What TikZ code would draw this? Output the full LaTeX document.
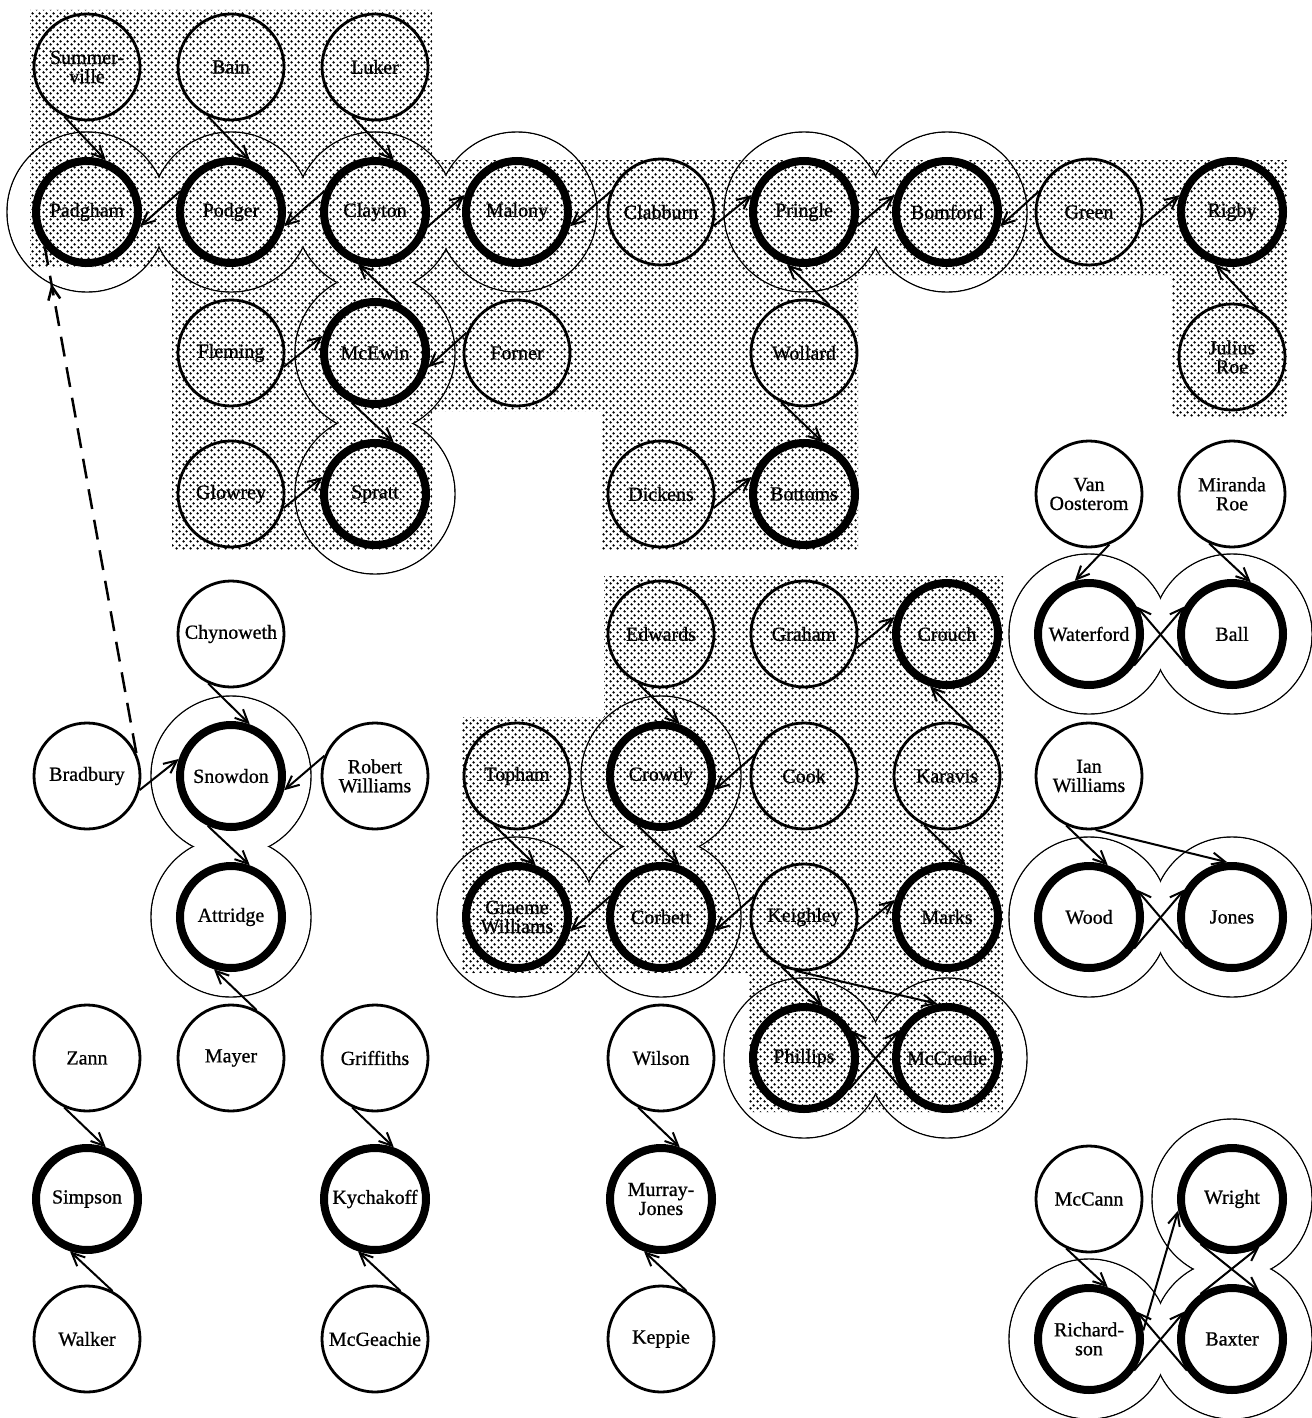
\documentclass[tikz,border=0pt]{standalone}
\usepackage{fontspec}
\setmainfont{Liberation Serif}
\newfontfamily\namefont[FakeBold=0.8]{Liberation Serif}
\usetikzlibrary{arrows.meta,patterns.meta,decorations.markings}
\pgfdeclarelayer{bg}
\pgfsetlayers{bg,main}
\tikzdeclarepattern{
  name=stipple,
  type=uncolored,
  bottom left={(0pt,0pt)},
  top right={(7pt,7pt)},
  tile size={(7pt,7pt)},
  code={
    \fill (1.75pt,1.75pt) circle [radius=1.45pt];
    \fill (5.25pt,5.25pt) circle [radius=1.45pt];
  }
}
\begin{document}
\begin{tikzpicture}[x=1pt,y=-1pt,
  pnode/.style={circle, draw, line width=2.8pt, minimum size=106pt, inner sep=0pt,
    align=center, font=\namefont\fontsize{20}{19}\selectfont},
  pbold/.style={pnode, line width=8pt, minimum size=102pt},
  haloline/.style={line width=1.4pt},
  arr/.style={line width=2pt, -{Straight Barb[length=13pt,width=12pt]}},
  dashedarr/.style={line width=2.5pt, dash pattern=on 20pt off 11pt,
    postaction={decorate, decoration={markings,
      mark=at position 0.928 with {\arrow{Straight Barb[length=13pt,width=12pt]}}}}}
]
\useasboundingbox (0,0) rectangle (1311,1418);
% ---- nodes ----
\node[pnode] (summerville) at (87,67) {Summer-\\ville};
\node[pnode] (bain) at (231,67) {Bain};
\node[pnode] (luker) at (375,67) {Luker};
\node[pbold] (padgham) at (87,212) {Padgham};
\node[pbold] (podger) at (231,212) {Podger};
\node[pbold] (clayton) at (375,212) {Clayton};
\node[pbold] (malony) at (517,212) {Malony};
\node[pnode] (clabburn) at (661,212) {Clabburn};
\node[pbold] (pringle) at (804,212) {Pringle};
\node[pbold] (bomford) at (947,212) {Bomford};
\node[pnode] (green) at (1089,212) {Green};
\node[pbold] (rigby) at (1232,212) {Rigby};
\node[pnode] (fleming) at (231,353) {Fleming};
\node[pbold] (mcewin) at (375,353) {McEwin};
\node[pnode] (forner) at (517,353) {Forner};
\node[pnode] (wollard) at (804,353) {Wollard};
\node[pnode] (juliusroe) at (1232,357) {Julius\\Roe};
\node[pnode] (glowrey) at (231,494) {Glowrey};
\node[pbold] (spratt) at (375,494) {Spratt};
\node[pnode] (dickens) at (661,494) {Dickens};
\node[pbold] (bottoms) at (804,494) {Bottoms};
\node[pnode] (vanoosterom) at (1089,494) {Van\\Oosterom};
\node[pnode] (mirandaroe) at (1232,494) {Miranda\\Roe};
\node[pnode] (chynoweth) at (231,634) {Chynoweth};
\node[pnode] (edwards) at (661,634) {Edwards};
\node[pnode] (graham) at (804,634) {Graham};
\node[pbold] (crouch) at (947,634) {Crouch};
\node[pbold] (waterford) at (1089,634) {Waterford};
\node[pbold] (ball) at (1232,634) {Ball};
\node[pnode] (bradbury) at (87,776) {Bradbury};
\node[pbold] (snowdon) at (231,776) {Snowdon};
\node[pnode] (robertwilliams) at (375,776) {Robert\\Williams};
\node[pnode] (topham) at (517,776) {Topham};
\node[pbold] (crowdy) at (661,776) {Crowdy};
\node[pnode] (cook) at (804,776) {Cook};
\node[pnode] (karavis) at (947,776) {Karavis};
\node[pnode] (ianwilliams) at (1089,776) {Ian\\Williams};
\node[pbold] (attridge) at (231,917) {Attridge};
\node[pbold] (graemewilliams) at (517,917) {Graeme\\Williams};
\node[pbold] (corbett) at (661,917) {Corbett};
\node[pnode] (keighley) at (804,917) {Keighley};
\node[pbold] (marks) at (947,917) {Marks};
\node[pbold] (wood) at (1089,917) {Wood};
\node[pbold] (jones) at (1232,917) {Jones};
\node[pnode] (zann) at (87,1058) {Zann};
\node[pnode] (mayer) at (231,1058) {Mayer};
\node[pnode] (griffiths) at (375,1058) {Griffiths};
\node[pnode] (wilson) at (661,1058) {Wilson};
\node[pbold] (phillips) at (804,1058) {Phillips};
\node[pbold] (mccredie) at (947,1058) {McCredie};
\node[pbold] (simpson) at (87,1199) {Simpson};
\node[pbold] (kychakoff) at (375,1199) {Kychakoff};
\node[pbold] (murrayjones) at (661,1199) {Murray-\\Jones};
\node[pnode] (mccann) at (1089,1199) {McCann};
\node[pbold] (wright) at (1232,1199) {Wright};
\node[pnode] (walker) at (87,1339) {Walker};
\node[pnode] (mcgeachie) at (375,1339) {McGeachie};
\node[pnode] (keppie) at (661,1339) {Keppie};
\node[pbold] (richardson) at (1089,1339) {Richard-\\son};
\node[pbold] (baxter) at (1232,1339) {Baxter};
% ---- background: halos and stipple ----
\begin{pgfonlayer}{bg}
\fill[white] (0,0) rectangle (1311,1418);
\foreach \n in {padgham,podger,clayton,malony,mcewin,spratt,pringle,bomford,
  snowdon,attridge,crowdy,graemewilliams,corbett,phillips,mccredie,
  waterford,ball,wood,jones,wright,richardson,baxter}
  \draw[haloline] (\n.center) circle (80pt);
\foreach \n in {padgham,podger,clayton,malony,mcewin,spratt,pringle,bomford,
  snowdon,attridge,crowdy,graemewilliams,corbett,phillips,mccredie,
  waterford,ball,wood,jones,wright,richardson,baxter}
  \fill[white] (\n.center) circle (79.25pt);
\fill[pattern=stipple] (30,10) -- (432,10) -- (432,160) -- (1287,160) -- (1287,417)
  -- (1172,417) -- (1172,275) -- (858,275) -- (858,550) -- (602,550) -- (602,411)
  -- (432,411) -- (432,550) -- (172,550) -- (172,267) -- (30,267) -- cycle;
\fill[pattern=stipple] (604,576) -- (1003,576) -- (1003,1112) -- (748,1112)
  -- (748,973) -- (462,973) -- (462,717) -- (604,717) -- cycle;
\end{pgfonlayer}
% ---- connectors ----
\foreach \a/\b in {summerville/padgham,bain/podger,luker/clayton,mcewin/spratt,
  wollard/bottoms,chynoweth/snowdon,snowdon/attridge,edwards/crowdy,
  topham/graemewilliams,crowdy/corbett,karavis/marks,keighley/phillips,
  zann/simpson,griffiths/kychakoff,wilson/murrayjones,mirandaroe/ball,
  ianwilliams/wood,mccann/richardson}
  \draw[arr] (\a.-115) -- (\b.70);
\draw[arr] (vanoosterom.-68) -- (waterford.105);
\foreach \a/\b in {mcewin/clayton,wollard/pringle,juliusroe/rigby,karavis/crouch,
  mayer/attridge,walker/simpson,mcgeachie/kychakoff,keppie/murrayjones}
  \draw[arr] (\a.62) -- (\b.-108);
\foreach \a/\b in {clayton/malony,clabburn/pringle,pringle/bomford,green/rigby,
  fleming/mcewin,glowrey/spratt,dickens/bottoms,graham/crouch,keighley/marks,
  bradbury/snowdon}
  \draw[arr] (\a.-15) -- (\b.162);
\foreach \a/\b in {podger/padgham,clayton/podger,clabburn/malony,green/bomford,
  forner/mcewin,cook/crowdy,corbett/graemewilliams,keighley/corbett,
  robertwilliams/snowdon}
  \draw[arr] (\a.158) -- (\b.-15);
\foreach \a/\b in {waterford/ball,wood/jones,phillips/mccredie,richardson/baxter}{
  \draw[arr] (\a.-35) -- (\b.150);
  \draw[arr] (\b.-145) -- (\a.30);
}
\draw[arr] (wright.-125) -- (baxter.60);
\draw[arr] (baxter.125) -- (wright.-60);
\draw[arr] (keighley.-100) -- (mccredie.100);
\draw[arr] (ianwilliams.-83) -- (jones.95);
\draw[arr] (richardson.9) -- (wright.-168);
\draw[dashedarr] (bradbury.25) -- (padgham.-140);
\end{tikzpicture}
\end{document}
